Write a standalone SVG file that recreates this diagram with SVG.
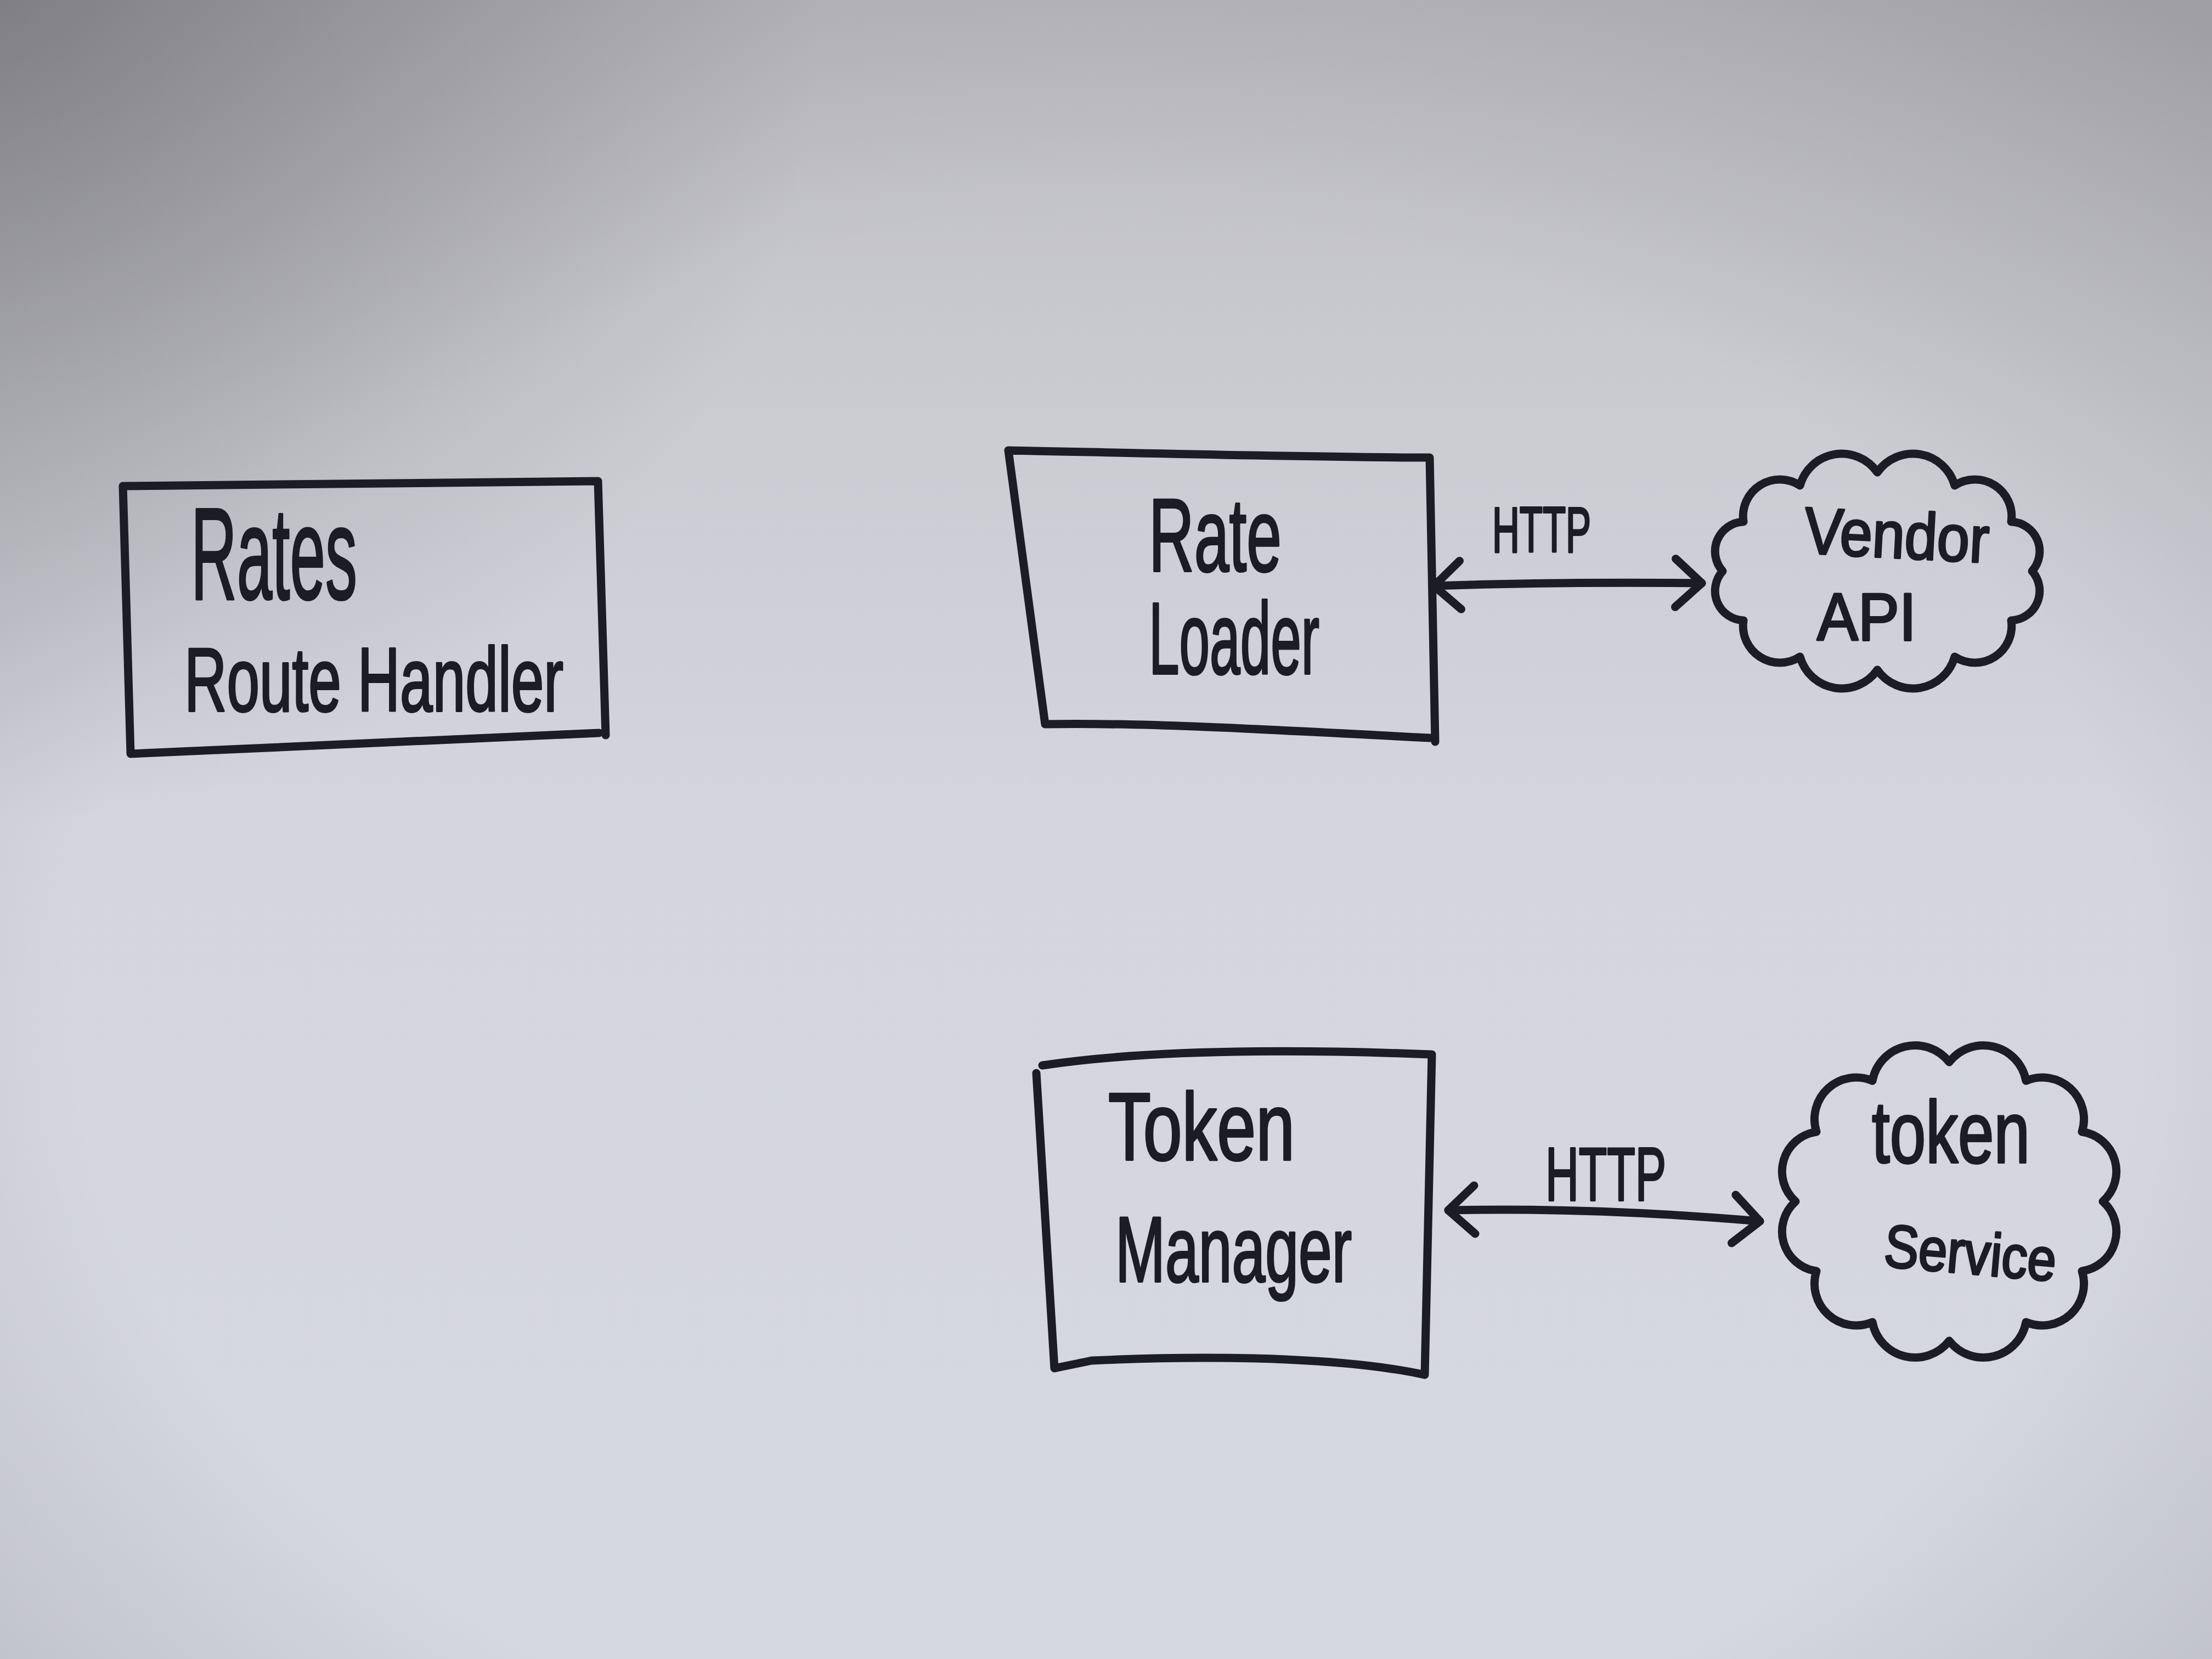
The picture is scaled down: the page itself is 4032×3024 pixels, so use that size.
<svg xmlns="http://www.w3.org/2000/svg" width="4032" height="3024" viewBox="0 0 4032 3024">
  <defs>
    <linearGradient id="paper" x1="0" y1="0" x2="0" y2="1">
      <stop offset="0" stop-color="#bebdc4"/>
      <stop offset="0.25" stop-color="#cbcbd2"/>
      <stop offset="0.5" stop-color="#d4d5dd"/>
      <stop offset="1" stop-color="#d6d8e0"/>
    </linearGradient>
    <radialGradient id="vignette" cx="0.5" cy="0.6" r="0.78">
      <stop offset="0" stop-color="#5a5960" stop-opacity="0"/>
      <stop offset="0.6" stop-color="#5a5960" stop-opacity="0"/>
      <stop offset="0.82" stop-color="#5a5960" stop-opacity="0.16"/>
      <stop offset="1" stop-color="#5a5960" stop-opacity="0.32"/>
    </radialGradient>
    <radialGradient id="shade" cx="0" cy="0" r="1500" gradientUnits="userSpaceOnUse">
      <stop offset="0" stop-color="#48474e" stop-opacity="0.35"/>
      <stop offset="1" stop-color="#48474e" stop-opacity="0"/>
    </radialGradient>
    <marker id="chev" viewBox="0 0 90 120" markerUnits="userSpaceOnUse" markerWidth="90" markerHeight="120" refX="70" refY="60" orient="auto-start-reverse">
      <path d="M 22 16 L 70 60 L 22 104" fill="none" stroke="#1c1c25" stroke-width="15" stroke-linecap="round" stroke-linejoin="round"/>
    </marker>
    <style>
      .ink { fill: none; stroke: #1c1c25; stroke-width: 15; stroke-linecap: round; stroke-linejoin: round; }
      .hand { fill: #1c1c25; stroke: #1c1c25; stroke-width: 4; stroke-linejoin: round; font-family: "Liberation Sans", Arial, sans-serif; }
    </style>
  </defs>

  <rect width="4032" height="3024" fill="url(#paper)"/>
  <rect width="4032" height="3024" fill="url(#vignette)"/>
  <rect width="4032" height="3024" fill="url(#shade)"/>

  <g id="rates-route-handler">
    <path class="ink" d="M 224 886 L 1090 877 L 1104 1340 M 1092 1336 L 238 1374 L 224 886"/>
    <text class="hand" x="348" y="1092" font-size="240" textLength="303" lengthAdjust="spacingAndGlyphs">Rates</text>
    <text class="hand" x="336" y="1296" font-size="166" textLength="691" lengthAdjust="spacingAndGlyphs">Route Handler</text>
  </g>

  <g id="rate-loader">
    <path class="ink" d="M 1838 821 C 2100 826 2400 834 2606 834 L 2616 1352 M 2606 1345 C 2400 1335 2100 1316 1905 1320 L 1838 821"/>
    <text class="hand" x="2094" y="1041" font-size="190" textLength="242" lengthAdjust="spacingAndGlyphs">Rate</text>
    <text class="hand" x="2094" y="1228" font-size="185" textLength="311" lengthAdjust="spacingAndGlyphs">Loader</text>
  </g>

  <g id="vendor-api">
    <path class="ink" d="M 3704 1041 A 54 54 0 0 1 3666 1131 A 67 67 0 0 1 3563 1197 A 79 79 0 0 1 3422 1221 A 79 79 0 0 1 3281 1197 A 67 67 0 0 1 3178 1131 A 54 54 0 0 1 3140 1041 A 54 54 0 0 1 3178 951 A 67 67 0 0 1 3281 885 A 79 79 0 0 1 3422 861 A 79 79 0 0 1 3563 885 A 67 67 0 0 1 3666 951 A 54 54 0 0 1 3704 1041 Z"/>
    <text class="hand" x="3287" y="1008" font-size="120" textLength="337" lengthAdjust="spacingAndGlyphs" transform="rotate(3 3287 1008)">Vendor</text>
    <text class="hand" x="3312" y="1167" font-size="122" textLength="181" lengthAdjust="spacingAndGlyphs">API</text>
  </g>

  <g id="token-manager">
    <path class="ink" d="M 1900 1942 C 2060 1918 2300 1910 2610 1922 L 2597 2506 C 2470 2478 2250 2468 1990 2480 L 1922 2494 L 1889 1956"/>
    <text class="hand" x="2020" y="2114" font-size="175" textLength="340" lengthAdjust="spacingAndGlyphs">Token</text>
    <text class="hand" x="2033" y="2336" font-size="168" textLength="431" lengthAdjust="spacingAndGlyphs">Manager</text>
  </g>

  <g id="token-service">
    <path class="ink" d="M 3833 2190 A 73 73 0 0 1 3795 2317 A 76 76 0 0 1 3693 2410 A 79 79 0 0 1 3553 2444 A 79 79 0 0 1 3413 2410 A 76 76 0 0 1 3311 2317 A 73 73 0 0 1 3273 2190 A 73 73 0 0 1 3311 2063 A 76 76 0 0 1 3413 1970 A 79 79 0 0 1 3553 1936 A 79 79 0 0 1 3693 1970 A 76 76 0 0 1 3795 2063 A 73 73 0 0 1 3833 2190 Z"/>
    <text class="hand" x="3412" y="2119" font-size="160" textLength="288" lengthAdjust="spacingAndGlyphs">token</text>
    <text class="hand" x="3432" y="2308" font-size="110" textLength="314" lengthAdjust="spacingAndGlyphs" transform="rotate(5 3432 2308)">Service</text>
  </g>

  <g id="connectors">
    <path class="ink" d="M 2614 1068 Q 2850 1060 3102 1063" marker-start="url(#chev)" marker-end="url(#chev)"/>
    <text class="hand" x="2720" y="1006" font-size="116" textLength="180" lengthAdjust="spacingAndGlyphs">HTTP</text>
    <path class="ink" d="M 2640 2206 Q 2900 2200 3208 2226" marker-start="url(#chev)" marker-end="url(#chev)"/>
    <text class="hand" x="2817" y="2188" font-size="137" textLength="220" lengthAdjust="spacingAndGlyphs">HTTP</text>
  </g>
</svg>
